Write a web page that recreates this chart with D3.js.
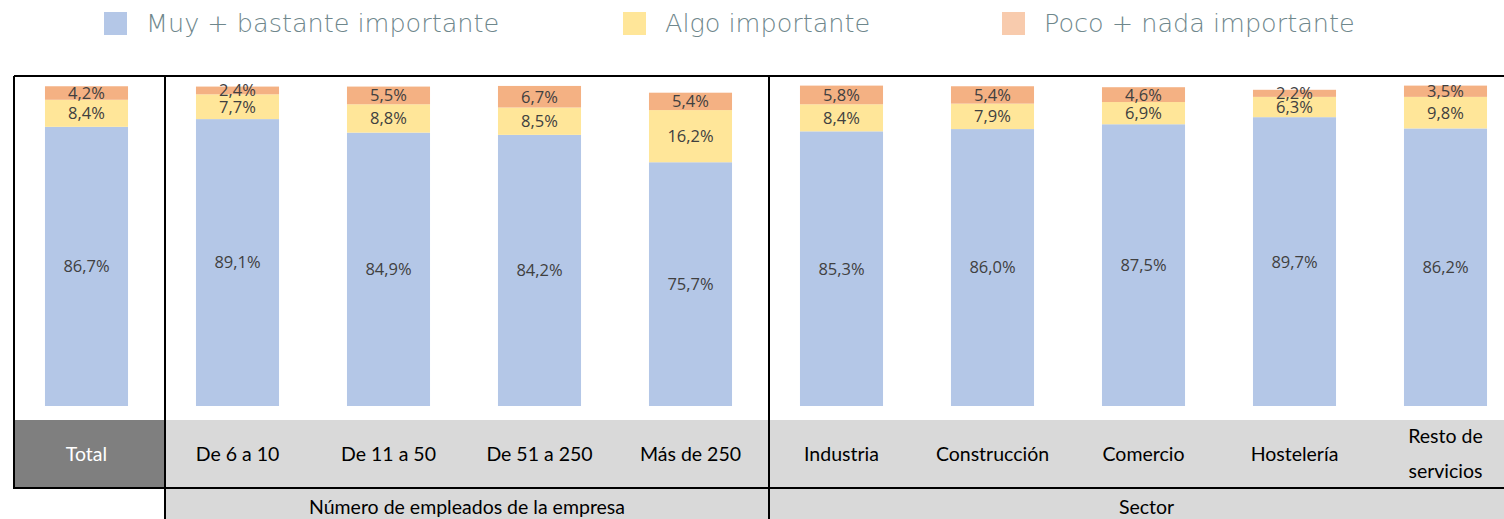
<!DOCTYPE html>
<html>
<head>
<meta charset="utf-8">
<script src="https://cdn.jsdelivr.net/npm/d3@7"></script>
<style>
  body { margin: 0; background: #fff; }
  svg text { font-family: "Open Sans", "Liberation Sans", sans-serif; }
</style>
</head>
<body>
<div id="chart"></div>
<script>
//// ============================ DATA ============================ ////

var categories = ["Total", "De 6 a 10", "De 11 a 50", "De 51 a 250", "Más de 250",
    "Industria", "Construcción", "Comercio", "Hostelería", "Resto de servicios"];
var muyBastante = [86.7, 89.1, 84.9, 84.2, 75.7, 85.3, 86.0, 87.5, 89.7, 86.2];
var algo = [8.4, 7.7, 8.8, 8.5, 16.2, 8.4, 7.9, 6.9, 6.3, 9.8];
var pocoNada = [4.2, 2.4, 5.5, 6.7, 5.4, 5.8, 5.4, 4.6, 2.2, 3.5];
var seriesNames = ["Muy + bastante importante", "Algo importante", "Poco + nada importante"];
var groups = [{ name: "Número de empleados de la empresa", from: 1, to: 4 },
              { name: "Sector", from: 5, to: 9 }];

//// ============================ LAYOUT ============================ ////

var width = 1504, height = 519;
var left = 14, step = 151;
var barBottom = 406, barTop100 = 84;
var catTop = 420, catBottom = 488;

var colors = ["#b4c7e7", "#ffe699", "#f4b183"];
var legendColors = ["#b4c7e7", "#ffe699", "#f8cbad"];

var svg = d3.select("#chart").append("svg")
    .attr("width", width)
    .attr("height", height);

var x = d3.scaleBand()
    .domain(categories)
    .range([left - 3, left - 3 + step * categories.length])
    .paddingInner(0.45)
    .paddingOuter(0.225);

var y = d3.scaleLinear()
    .domain([0, 100])
    .range([barBottom, barTop100]);

var rows = categories.map(function(c, i) {
    return { cat: c, v0: muyBastante[i], v1: algo[i], v2: pocoNada[i] };
});
var stack = d3.stack().keys(["v0", "v1", "v2"]);
var layers = stack(rows);

//// ============================ LEGEND ============================ ////

var legendX = [104, 623, 1002];
var legend = svg.selectAll(".legend")
    .data(seriesNames)
    .enter().append("g")
    .attr("class", "legend")
    .attr("transform", function(d, i) { return "translate(" + legendX[i] + ",12)"; });

legend.append("rect")
    .attr("width", 23)
    .attr("height", 23)
    .style("fill", function(d, i) { return legendColors[i]; });

legend.append("text")
    .attr("x", 42)
    .attr("y", 20)
    .style("font-family", "'DejaVu Sans', sans-serif")
    .style("font-size", "25.5px")
    .style("fill", "#6f878c")
    .style("font-weight", "200")
    .text(function(d) { return d; });

//// ============================ CATEGORY BANDS ============================ ////

svg.append("rect")
    .attr("x", left + step)
    .attr("y", catTop)
    .attr("width", width - left - step)
    .attr("height", catBottom - catTop)
    .style("fill", "#d9d9d9");

svg.append("rect")
    .attr("x", left)
    .attr("y", catTop)
    .attr("width", step)
    .attr("height", catBottom - catTop)
    .style("fill", "#7f7f7f");

svg.append("rect")
    .attr("x", left + step)
    .attr("y", catBottom)
    .attr("width", width - left - step)
    .attr("height", height - catBottom)
    .style("fill", "#d9d9d9");

var catLabels = svg.selectAll(".cat")
    .data(categories)
    .enter().append("text")
    .attr("class", "cat")
    .attr("x", function(d) { return x(d) + x.bandwidth() / 2; })
    .attr("y", (catTop + catBottom) / 2)
    .attr("text-anchor", "middle")
    .style("font-family", "Lato, sans-serif")
    .style("font-size", "19.5px")
    .style("fill", function(d, i) { return i == 0 ? "#ffffff" : "#000000"; });

catLabels.each(function(d) {
    var words = d == "Resto de servicios" ? ["Resto de", "servicios"] : [d];
    var t = d3.select(this);
    words.forEach(function(w, j) {
        t.append("tspan")
            .attr("x", t.attr("x"))
            .attr("dy", words.length == 1 ? "0.35em" : (j == 0 ? "-0.55em" : "1.8em"))
            .text(w);
    });
});

svg.selectAll(".group")
    .data(groups)
    .enter().append("text")
    .attr("class", "group")
    .attr("x", function(d) { return left + step * (d.from + d.to + 1) / 2; })
    .attr("y", 514)
    .attr("text-anchor", "middle")
    .style("font-family", "Lato, sans-serif")
    .style("font-size", "19.5px")
    .style("fill", "#000")
    .text(function(d) { return d.name; });

//// ============================ BARS ============================ ////

var layer = svg.selectAll(".layer")
    .data(layers)
    .enter().append("g")
    .attr("class", "layer")
    .style("fill", function(d, i) { return colors[i]; });

layer.selectAll("rect")
    .data(function(d) { return d; })
    .enter().append("rect")
    .attr("x", function(d) { return x(d.data.cat); })
    .attr("y", function(d) { return y(d[1]); })
    .attr("width", x.bandwidth())
    .attr("height", function(d) { return y(d[0]) - y(d[1]); });

var fmt = function(v) { return v.toFixed(1).replace(".", ",") + "%"; };

layer.selectAll("text")
    .data(function(d) { return d; })
    .enter().append("text")
    .attr("x", function(d) { return x(d.data.cat) + x.bandwidth() / 2; })
    .attr("y", function(d) { return (y(d[0]) + y(d[1])) / 2; })
    .attr("dy", "0.36em")
    .attr("text-anchor", "middle")
    .style("font-size", "16.5px")
    .style("fill", "#404040")
    .text(function(d) { return fmt(d[1] - d[0]); });

//// ============================ FRAME ============================ ////

var lines = [
    [left, 76, width, 76],
    [left, 76, left, catBottom + 1],
    [left, catBottom, width, catBottom],
    [left + step, 76, left + step, height],
    [left + step * 5, 76, left + step * 5, height]
];
svg.selectAll(".frame")
    .data(lines)
    .enter().append("line")
    .attr("x1", function(d) { return d[0]; })
    .attr("y1", function(d) { return d[1]; })
    .attr("x2", function(d) { return d[2]; })
    .attr("y2", function(d) { return d[3]; })
    .style("stroke", "#000")
    .style("stroke-width", 2);
</script>
</body>
</html>
